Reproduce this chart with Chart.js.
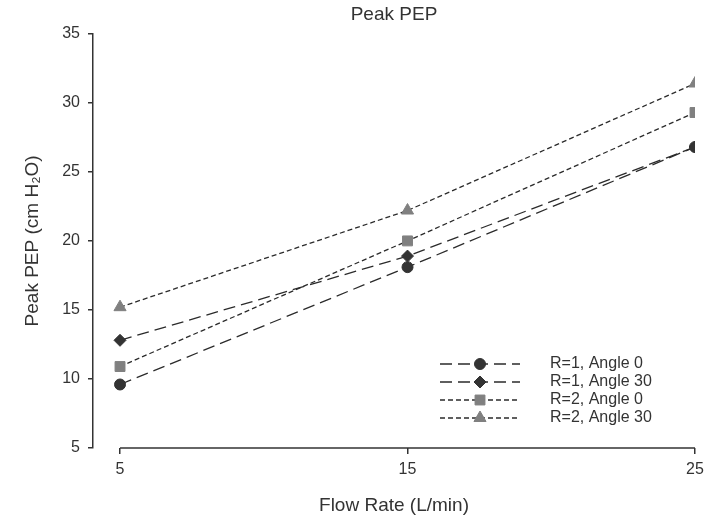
<!DOCTYPE html>
<html>
<head>
<meta charset="utf-8">
<script src="https://cdn.jsdelivr.net/npm/chart.js@4/dist/chart.umd.min.js"></script>
<style>
  html, body { margin: 0; padding: 0; background: #fff; }
  #wrap { width: 717px; height: 521px; }
</style>
</head>
<body>
<div id="wrap"><canvas id="pepChart" width="717" height="521"></canvas></div>
<script>
// Peak PEP vs flow rate
const flowRates = [5, 15, 25];
const r1Angle0 = [9.6, 18.1, 26.8];
const r1Angle30 = [12.8, 18.9, 26.8];
const r2Angle0 = [10.9, 20.0, 29.3];
const r2Angle30 = [15.2, 22.2, 31.4];
const seriesLabels = ['R=1, Angle 0', 'R=1, Angle 30', 'R=2, Angle 0', 'R=2, Angle 30'];
const yTicks = [5, 10, 15, 20, 25, 30, 35];

const FONT = "'Liberation Sans', Arial, sans-serif";
const lineColor = '#2b2b2b';

function toPoints(vals) {
    return flowRates.map((x, i) => ({ x: x, y: vals[i] }));
}

function makeSet(label, vals, style, radius, fill, dash) {
    return {
        label: label,
        data: toPoints(vals),
        borderColor: lineColor,
        borderWidth: 1.3,
        borderDash: dash,
        pointStyle: style,
        pointRadius: radius,
        pointBackgroundColor: fill,
        pointBorderColor: fill,
        pointBorderWidth: 1,
        fill: false,
        tension: 0
    };
}

// separate (detached) x axis like the original figure
const axisLines = {
    id: 'axisLines',
    afterDraw(chart) {
        const c = chart.ctx;
        const xs = chart.scales.x, ys = chart.scales.y;
        c.save();
        c.strokeStyle = '#333';
        c.lineWidth = 1.5;
        c.beginPath();
        c.moveTo(xs.getPixelForValue(flowRates[0]), ys.getPixelForValue(yTicks[0]));
        c.lineTo(xs.getPixelForValue(flowRates[flowRates.length - 1]), ys.getPixelForValue(yTicks[0]));
        c.stroke();
        c.restore();
    }
};

// legend drawn inside the plot, lower right, with line + marker samples
const insideLegend = {
    id: 'insideLegend',
    afterDraw(chart) {
        const c = chart.ctx;
        const area = chart.chartArea;
        const x0 = area.right - 255, x1 = x0 + 80;
        let y = area.bottom - 84;
        c.save();
        chart.data.datasets.forEach(ds => {
            c.strokeStyle = ds.borderColor;
            c.lineWidth = ds.borderWidth;
            c.setLineDash(ds.borderDash || []);
            c.beginPath();
            c.moveTo(x0, y);
            c.lineTo(x1, y);
            c.stroke();
            c.setLineDash([]);
            c.fillStyle = ds.pointBackgroundColor;
            c.strokeStyle = ds.pointBorderColor;
            c.lineWidth = 1;
            Chart.helpers.drawPoint(c, { pointStyle: ds.pointStyle, radius: ds.pointRadius, rotation: 0, borderWidth: 1 }, (x0 + x1) / 2, y);
            c.fillStyle = '#333';
            c.font = '16px ' + FONT;
            c.textBaseline = 'middle';
            c.textAlign = 'left';
            c.fillText(ds.label, x1 + 30, y);
            y += 18;
        });
        c.restore();
    }
};

new Chart(document.getElementById('pepChart'), {
    type: 'line',
    data: {
        datasets: [
            makeSet(seriesLabels[0], r1Angle0, 'circle', 5.5, '#333', [12, 6]),
            makeSet(seriesLabels[1], r1Angle30, 'rectRot', 6, '#333', [12, 6]),
            makeSet(seriesLabels[2], r2Angle0, 'rect', 7, '#808080', [5, 3]),
            makeSet(seriesLabels[3], r2Angle30, 'triangle', 7, '#808080', [5, 3])
        ]
    },
    options: {
        responsive: false,
        animation: false,
        layout: { padding: { left: 0, right: 22, top: 0, bottom: 0 } },
        plugins: {
            legend: { display: false },
            tooltip: { enabled: false },
            title: {
                display: true,
                fullSize: false,
                text: 'Peak PEP',
                color: '#333',
                font: { family: FONT, size: 19, weight: 'normal' },
                padding: { top: 3, bottom: 8 }
            }
        },
        scales: {
            x: {
                type: 'linear',
                min: 4.06,
                max: 25,
                afterBuildTicks: s => { s.ticks = flowRates.map(v => ({ value: v })); },
                afterFit: s => { s.height = 73; },
                border: { display: false },
                grid: { drawOnChartArea: false, drawTicks: true, tickLength: 6, color: '#333', lineWidth: 1.5 },
                ticks: { color: '#333', padding: 6, font: { family: FONT, size: 16 } },
                title: {
                    display: true,
                    text: 'Flow Rate (L/min)',
                    color: '#333',
                    font: { family: FONT, size: 19 },
                    padding: { top: 4, bottom: 4 }
                }
            },
            y: {
                min: 5,
                max: 35,
                afterBuildTicks: s => { s.ticks = yTicks.map(v => ({ value: v })); },
                afterFit: s => { s.width = 93; },
                border: { display: true, color: '#333', width: 1.5 },
                grid: { drawOnChartArea: false, drawTicks: true, tickLength: 5, color: '#333', lineWidth: 1.5 },
                ticks: { color: '#333', padding: 8, font: { family: FONT, size: 16 } },
                title: {
                    display: true,
                    text: 'Peak PEP (cm H\u2082O)',
                    color: '#333',
                    font: { family: FONT, size: 19 },
                    padding: { top: 21, bottom: 0 }
                }
            }
        }
    },
    plugins: [axisLines, insideLegend]
});
</script>
</body>
</html>
